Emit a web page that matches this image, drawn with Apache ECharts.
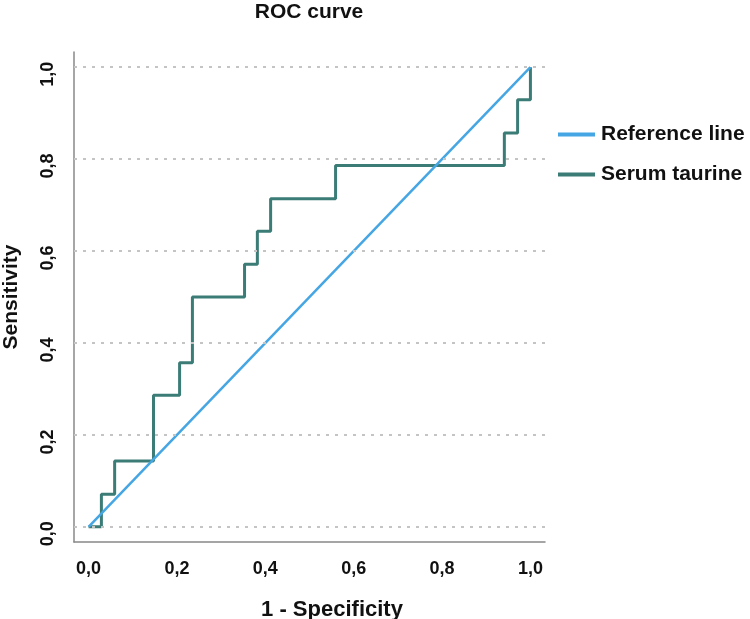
<!DOCTYPE html>
<html>
<head>
<meta charset="utf-8">
<script src="https://cdn.jsdelivr.net/npm/echarts@6/dist/echarts.min.js"></script>
<style>
  html, body { margin: 0; padding: 0; background: #fff; }
  #roc_chart { width: 750px; height: 619px; }
</style>
</head>
<body>
<div id="roc_chart"></div>
<script>
// 数据
var reference_points = [[0, 0], [1, 1]];
// serum taurine ROC curve (1 - specificity, sensitivity)
var taurine_x = [0, 0.029, 0.029, 0.059, 0.059, 0.147, 0.147, 0.206, 0.206, 0.235, 0.235, 0.353, 0.353,
    0.382, 0.382, 0.412, 0.412, 0.559, 0.559, 0.941, 0.941, 0.971, 0.971, 1, 1];
var taurine_y = [0, 0, 0.071, 0.071, 0.143, 0.143, 0.286, 0.286, 0.357, 0.357, 0.5, 0.5, 0.571,
    0.571, 0.643, 0.643, 0.714, 0.714, 0.786, 0.786, 0.857, 0.857, 0.929, 0.929, 1];
var grid_ticks = [0, 0.2, 0.4, 0.6, 0.8, 1.0];
var series_names = ['Reference line', 'Serum taurine'];

var font = "'Liberation Sans', Arial, sans-serif";

var taurine_points = taurine_x.map(function (x, i) { return [x, taurine_y[i]]; });

function tick_label(value) {
    // 只显示 0.2 的倍数
    var r = Math.round(value * 5) / 5;
    if (Math.abs(r - value) > 0.001) return '';
    return r.toFixed(1).replace('.', ',');
}

var roc_chart = echarts.init(document.getElementById('roc_chart'));

var roc_option = {
    animation: false,
    textStyle: { fontFamily: font },
    title: [
        {
            text: 'ROC curve',
            left: 304,
            textAlign: 'center',
            top: -3,
            textStyle: { fontSize: 21, fontWeight: 'bold', color: '#111', fontFamily: font }
        },
        {
            text: '1 - Specificity',
            left: 327,
            textAlign: 'center',
            top: 594,
            textStyle: { fontSize: 22, fontWeight: 'bold', color: '#111', fontFamily: font }
        }
    ],
    legend: {
        orient: 'vertical',
        left: 553,
        top: 119,
        itemWidth: 37,
        itemHeight: 4,
        itemGap: 19,
        icon: 'rect',
        data: series_names,
        textStyle: { fontSize: 21, fontWeight: 'bold', color: '#111', fontFamily: font, padding: [0, 0, 0, 1] }
    },
    grid: { left: 74, right: 205, top: 52, bottom: 77, containLabel: false, outerBoundsMode: 'none' },
    xAxis: {
        type: 'value',
        min: -0.033,
        max: 1.033,
        splitNumber: 5,
        axisLine: { show: true, onZero: false, lineStyle: { color: '#888', width: 1.5 } },
        axisTick: { show: false },
        splitLine: { show: false },
        axisLabel: {
            formatter: tick_label,
            margin: 18,
            fontSize: 18,
            fontWeight: 'bold',
            color: '#111'
        }
    },
    yAxis: {
        type: 'value',
        min: -0.033,
        max: 1.033,
        splitNumber: 5,
        name: 'Sensitivity',
        nameLocation: 'middle',
        nameRotate: 90,
        nameGap: 52,
        nameMoveOverlap: false,
        nameTextStyle: { fontSize: 21, fontWeight: 'bold', color: '#111' },
        axisLine: { show: true, onZero: false, lineStyle: { color: '#888', width: 1.5 } },
        axisTick: { show: false },
        splitLine: { show: false },
        axisLabel: {
            formatter: tick_label,
            rotate: 90,
            margin: 17,
            padding: [0, 14, 0, 0],
            fontSize: 18,
            fontWeight: 'bold',
            color: '#111'
        }
    },
    series: [
        {
            name: series_names[0],
            type: 'line',
            data: reference_points,
            symbol: 'none',
            z: 3,
            itemStyle: { color: '#45a6e3' },
            lineStyle: { color: '#45a6e3', width: 2.5 },
            markLine: {
                silent: true,
                symbol: 'none',
                label: { show: false },
                lineStyle: { color: '#c4c4c4', type: [3, 6], width: 2 },
                data: grid_ticks.map(function (v) { return { yAxis: v }; })
            }
        },
        {
            name: series_names[1],
            type: 'line',
            data: taurine_points,
            symbol: 'none',
            z: 2,
            itemStyle: { color: '#3b7c77' },
            lineStyle: { color: '#3b7c77', width: 3 }
        }
    ]
};

roc_chart.setOption(roc_option);
</script>
</body>
</html>
